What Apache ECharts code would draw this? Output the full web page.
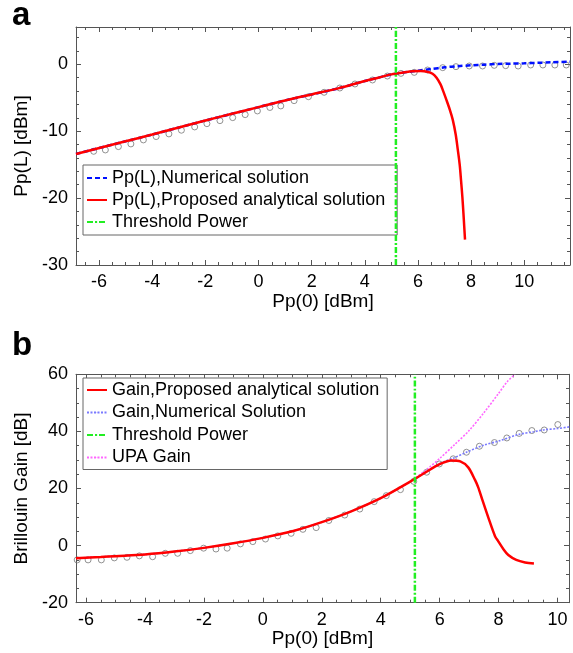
<!DOCTYPE html>
<html>
<head>
<meta charset="utf-8">
<script src="https://cdn.jsdelivr.net/npm/echarts@6/dist/echarts.min.js"></script>
<style>
html,body{margin:0;padding:0;background:#fff;}
#chart{width:573px;height:653px;}
</style>
</head>
<body>
<div id="chart"></div>
<script>
// ---------- Panel a data ----------
const aXTicks = [-6, -4, -2, 0, 2, 4, 6, 8, 10];
const aYTicks = [-30, -20, -10, 0];
const aAnalyticX = [-6.865, -5, -4, -3, -2, -1, 0, 1, 2, 3, 4, 4.5, 5, 5.5, 5.8, 6.1, 6.35, 6.55, 6.7, 6.85, 6.95, 7.06, 7.2, 7.31, 7.42, 7.5, 7.57, 7.62, 7.67, 7.71, 7.74, 7.77];
const aAnalyticY = [-13.4, -11.5, -10.5, -9.45, -8.4, -7.4, -6.4, -5.4, -4.5, -3.6, -2.5, -2.0, -1.5, -1.2, -1.05, -1.0, -1.1, -1.4, -2.0, -3.0, -4.0, -5.2, -6.8, -8.3, -10.5, -12.8, -15.0, -17.3, -19.8, -22.2, -24.2, -26.2];
const aNumericX = [-6.865, -5, -4, -3, -2, -1, 0, 1, 2, 3, 4, 4.5, 5, 5.5, 6, 6.5, 7, 7.5, 8, 8.5, 9, 9.5, 10, 10.5, 11, 11.72];
const aNumericY = [-13.4, -11.5, -10.5, -9.45, -8.4, -7.4, -6.4, -5.4, -4.5, -3.6, -2.5, -2.0, -1.5, -1.2, -0.95, -0.7, -0.45, -0.28, -0.15, -0.05, 0.05, 0.1, 0.15, 0.22, 0.3, 0.4];
const aPointsX = [-6.2, -5.76, -5.27, -4.8, -4.33, -3.85, -3.37, -2.9, -2.4, -1.94, -1.45, -0.97, -0.5, -0.04, 0.43, 0.84, 1.34, 1.88, 2.47, 3.06, 3.63, 4.29, 4.85, 5.36, 5.86, 6.36, 6.93, 7.43, 7.93, 8.43, 8.87, 9.3, 9.77, 10.24, 10.7, 11.15, 11.58];
const aPointsY = [-13.0, -12.8, -12.3, -11.9, -11.3, -10.8, -10.4, -9.85, -9.36, -8.87, -8.42, -7.97, -7.52, -6.97, -6.45, -6.22, -5.43, -4.84, -4.18, -3.54, -2.94, -2.34, -1.75, -1.35, -1.2, -0.85, -0.5, -0.35, -0.25, -0.25, -0.15, -0.2, -0.25, -0.1, -0.1, -0.1, -0.1];
const aThreshold = 5.17;

// ---------- Panel b data ----------
const bXTicks = [-6, -4, -2, 0, 2, 4, 6, 8, 10];
const bYTicks = [-20, 0, 20, 40, 60];
const bAnalyticX = [-6.34, -5.5, -5, -4, -3, -2, -1, 0, 1, 2, 3, 4, 5, 5.5, 6, 6.4, 6.7, 6.97, 7.2, 7.31, 7.45, 7.65, 7.88, 7.99, 8.16, 8.33, 8.6, 8.9, 9.2];
const bAnalyticY = [-4.4, -4.0, -3.7, -3.1, -2.1, -0.8, 0.8, 2.7, 5.0, 8.2, 12.0, 16.6, 22.4, 25.5, 28.5, 29.8, 29.5, 27.4, 23.0, 20.4, 16.0, 9.9, 3.3, 1.5, -1.2, -3.3, -5.0, -5.9, -6.3];
const bNumericX = [-6.34, -5, -4, -3, -2, -1, 0, 1, 2, 3, 4, 5, 5.5, 6, 6.5, 6.91, 7.5, 8, 8.67, 9.2, 9.58, 10.0, 10.4];
const bNumericY = [-4.4, -3.7, -3.1, -2.1, -0.8, 0.8, 2.7, 5.0, 8.2, 12.0, 16.6, 22.4, 25.5, 28.7, 30.8, 32.7, 35.2, 36.6, 38.9, 39.9, 40.6, 41.0, 41.6];
const bUpaX = [-6.34, -5, -4, -3, -2, -1, 0, 1, 2, 3, 4, 5, 5.6, 6.0, 6.5, 7.0, 7.5, 8.0, 8.3, 8.56];
const bUpaY = [-4.4, -3.7, -3.1, -2.1, -0.8, 0.8, 2.7, 5.0, 8.2, 12.0, 16.6, 22.4, 27.0, 30.5, 35.3, 40.3, 46.5, 53.3, 57.5, 60.0];
const bPointsX = [-6.3, -5.93, -5.48, -5.04, -4.61, -4.19, -3.74, -3.31, -2.89, -2.46, -2.01, -1.59, -1.21, -0.76, -0.34, 0.09, 0.51, 0.96, 1.36, 1.81, 2.24, 2.78, 3.29, 3.78, 4.19, 4.67, 5.12, 5.56, 5.99, 6.46, 6.91, 7.35, 7.86, 8.28, 8.7, 9.13, 9.55, 10.01];
const bPointsY = [-5.0, -5.0, -5.0, -4.3, -4.1, -3.6, -3.9, -2.7, -2.7, -1.75, -0.9, -1.2, -0.9, 0.6, 1.4, 2.3, 3.4, 4.3, 5.7, 6.3, 8.8, 10.7, 12.8, 15.4, 17.5, 19.6, 22.5, 25.7, 28.6, 30.4, 32.7, 34.8, 36.1, 37.7, 39.3, 40.3, 40.5, 42.4];
const bThreshold = 5.16;

// ---------- helpers ----------
const FONT = 'Liberation Sans, Arial, Helvetica, sans-serif';
const AXIS_COLOR = '#555';
function zip(xs, ys) { return xs.map((x, i) => [x, ys[i]]); }
function minors(min, max, step) {
  const out = [];
  const start = Math.ceil(min / step - 1e-9) * step;
  for (let v = start; v <= max + 1e-9; v += step) out.push(+v.toFixed(6));
  return out;
}

const panels = [
  { grid: { left: 76, top: 27, width: 494, height: 238 },
    xr: [-6.865, 11.72], yr: [-30, 5.58],
    xT: aXTicks, yT: aYTicks, xMinStep: 0.5, yMinStep: 2,
    xName: 'Pp(0) [dBm]', yName: 'Pp(L) [dBm]', xGap: 23, yGap: 43 },
  { grid: { left: 76, top: 374.3, width: 493, height: 228.4 },
    xr: [-6.34, 10.39], yr: [-20, 60],
    xT: bXTicks, yT: bYTicks, xMinStep: 0.5, yMinStep: 5,
    xName: 'Pp(0) [dBm]', yName: 'Brillouin Gain [dB]', xGap: 22, yGap: 39 }
];

const grids = [], xAxes = [], yAxes = [], mainX = [], mainY = [];
panels.forEach((p, gi) => {
  grids.push(Object.assign({ containLabel: false, outerBoundsMode: 'none', show: false }, p.grid));
  const xMin = minors(p.xr[0], p.xr[1], p.xMinStep);
  const yMin = minors(p.yr[0], p.yr[1], p.yMinStep);
  ['bottom', 'top'].forEach(pos => {
    if (mainX[gi] === undefined) mainX[gi] = xAxes.length;
    const isMain = pos === 'bottom';
    xAxes.push({
      type: 'value', gridIndex: gi, position: pos, min: p.xr[0], max: p.xr[1],
      axisLine: { show: true, onZero: false, lineStyle: { color: AXIS_COLOR, width: 1 } },
      axisTick: { show: true, inside: true, length: 5, customValues: p.xT, lineStyle: { color: AXIS_COLOR } },
      axisLabel: isMain ? { show: true, customValues: p.xT, fontSize: 18, color: '#000', fontFamily: FONT, margin: 8, hideOverlap: false } : { show: false },
      splitLine: { show: false },
      name: isMain ? p.xName : '', nameLocation: 'middle', nameGap: p.xGap,
      nameTextStyle: { fontSize: 19, color: '#000', fontFamily: FONT }
    });
    xAxes.push({
      type: 'value', gridIndex: gi, position: pos, min: p.xr[0], max: p.xr[1],
      axisLine: { show: false, onZero: false },
      axisTick: { show: true, inside: true, length: 3, customValues: xMin, lineStyle: { color: AXIS_COLOR } },
      axisLabel: { show: false }, splitLine: { show: false }
    });
  });
  ['left', 'right'].forEach(pos => {
    if (mainY[gi] === undefined) mainY[gi] = yAxes.length;
    const isMain = pos === 'left';
    yAxes.push({
      type: 'value', gridIndex: gi, position: pos, min: p.yr[0], max: p.yr[1],
      axisLine: { show: true, onZero: false, lineStyle: { color: AXIS_COLOR, width: 1 } },
      axisTick: { show: true, inside: true, length: 5, customValues: p.yT, lineStyle: { color: AXIS_COLOR } },
      axisLabel: isMain ? { show: true, customValues: p.yT, fontSize: 18, color: '#000', fontFamily: FONT, margin: 8, hideOverlap: false } : { show: false },
      splitLine: { show: false },
      name: isMain ? p.yName : '', nameLocation: 'middle', nameGap: p.yGap, nameRotate: 90,
      nameTextStyle: { fontSize: 19, color: '#000', fontFamily: FONT }
    });
    yAxes.push({
      type: 'value', gridIndex: gi, position: pos, min: p.yr[0], max: p.yr[1],
      axisLine: { show: false, onZero: false },
      axisTick: { show: true, inside: true, length: 3, customValues: yMin, lineStyle: { color: AXIS_COLOR } },
      axisLabel: { show: false }, splitLine: { show: false }
    });
  });
});

function lineSeries(gi, name, data, color, width, type, z) {
  return {
    type: 'line', name, xAxisIndex: mainX[gi], yAxisIndex: mainY[gi], data,
    showSymbol: false, symbol: 'none', smooth: 0.3, clip: true, z: z,
    lineStyle: { color, width, type },
    itemStyle: { color }
  };
}
function pointSeries(gi, name, data) {
  return {
    type: 'scatter', name, xAxisIndex: mainX[gi], yAxisIndex: mainY[gi], data,
    symbol: 'circle', symbolSize: 6, z: 1,
    itemStyle: { color: 'rgba(255,255,255,0)', borderColor: '#777', borderWidth: 1 }
  };
}

const greenStyle = [6, 2, 2, 2];

const series = [
  pointSeries(0, 'Pp(L) points', zip(aPointsX, aPointsY)),
  lineSeries(0, 'Pp(L),Numerical solution', zip(aNumericX, aNumericY), '#0010ff', 2.5, [5, 3], 2),
  lineSeries(0, 'Pp(L),Proposed analytical solution', zip(aAnalyticX, aAnalyticY), '#ff0000', 2.5, 'solid', 3),
  lineSeries(0, 'Threshold Power', [[aThreshold, -30], [aThreshold, 5.58]], '#22ee22', 2.5, greenStyle, 4),
  pointSeries(1, 'Gain points', zip(bPointsX, bPointsY)),
  lineSeries(1, 'Gain,Numerical Solution', zip(bNumericX, bNumericY), '#7a7aff', 1.6, [2, 1.5], 2),
  lineSeries(1, 'UPA Gain', zip(bUpaX, bUpaY), '#ff66ff', 1.6, [2, 1.5], 2),
  lineSeries(1, 'Gain,Proposed analytical solution', zip(bAnalyticX, bAnalyticY), '#ff0000', 2.5, 'solid', 3),
  lineSeries(1, 'Threshold Power', [[bThreshold, -20], [bThreshold, 60]], '#22ee22', 2.5, greenStyle, 4)
];

const legendText = { fontSize: 18, color: '#000', fontFamily: FONT, lineHeight: 18 };
const titleStyle = { fontSize: 33, fontWeight: 'bold', color: '#000', fontFamily: FONT };
const option = {
  animation: false,
  backgroundColor: '#fff',
  title: [
    { text: 'a', left: 12, top: -1, padding: 0, textStyle: titleStyle },
    { text: 'b', left: 12, top: 329, padding: 0, textStyle: titleStyle }
  ],
  grid: grids,
  xAxis: xAxes,
  yAxis: yAxes,
  legend: [
    { orient: 'vertical', left: 83, top: 165, selectedMode: false,
      data: ['Pp(L),Numerical solution', 'Pp(L),Proposed analytical solution', 'Threshold Power'],
      itemWidth: 20, itemHeight: 1, itemGap: 4, padding: [4, 12, 4, 3],
      backgroundColor: '#fff', borderColor: '#666', borderWidth: 1, borderRadius: 0,
      textStyle: legendText },
    { orient: 'vertical', left: 83, top: 378, selectedMode: false,
      data: ['Gain,Proposed analytical solution', 'Gain,Numerical Solution', 'Threshold Power', 'UPA Gain'],
      itemWidth: 20, itemHeight: 1, itemGap: 4.5, padding: [3, 8, 3, 3],
      backgroundColor: '#fff', borderColor: '#666', borderWidth: 1, borderRadius: 0,
      textStyle: legendText }
  ],
  series
};

const chart = echarts.init(document.getElementById('chart'), null, { renderer: 'canvas' });
chart.setOption(option);
</script>
</body>
</html>
